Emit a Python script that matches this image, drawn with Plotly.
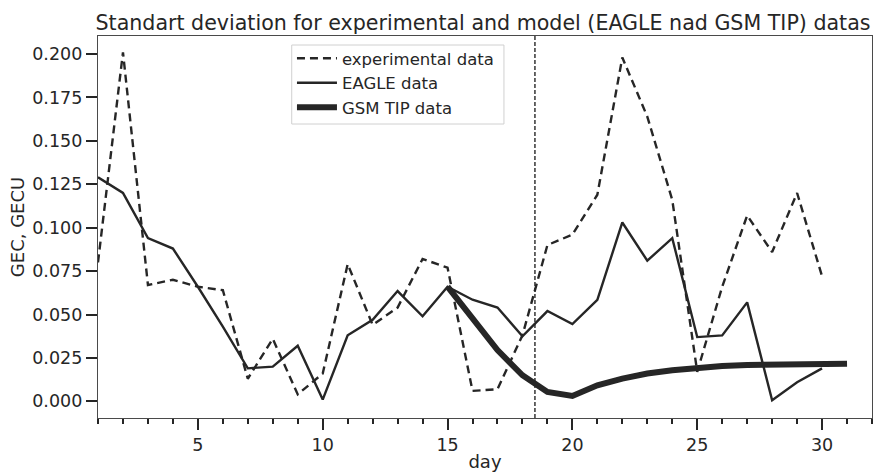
import plotly.graph_objects as go

days_exp = list(range(1, 31))
exp_data = [0.080, 0.201, 0.067, 0.070, 0.066, 0.064, 0.013, 0.036, 0.004, 0.016,
            0.079, 0.044, 0.054, 0.082, 0.077, 0.006, 0.007, 0.038, 0.090, 0.096,
            0.119, 0.198, 0.164, 0.116, 0.017, 0.066, 0.107, 0.086, 0.120, 0.072]

days_eagle = list(range(1, 31))
eagle_data = [0.129, 0.120, 0.094, 0.088, 0.066, 0.043, 0.019, 0.020, 0.032, 0.001,
              0.038, 0.047, 0.0635, 0.049, 0.066, 0.0585, 0.054, 0.0375, 0.052, 0.0445,
              0.0585, 0.103, 0.081, 0.094, 0.037, 0.038, 0.057, 0.0006, 0.011, 0.019]

days_gsm = list(range(15, 32))
gsm_data = [0.066, 0.048, 0.0295, 0.015, 0.0054, 0.0031, 0.0092, 0.0131, 0.016, 0.0179,
            0.0194, 0.0203, 0.0209, 0.0212, 0.0214, 0.0216, 0.0217]

vline_day = 18.5

x_range = [1, 32]
y_range = [-0.0096, 0.2104]
y_ticks = [0.000, 0.025, 0.050, 0.075, 0.100, 0.125, 0.150, 0.175, 0.200]
y_tick_labels = ["0.000", "0.025", "0.050", "0.075", "0.100", "0.125", "0.150", "0.175", "0.200"]
x_ticks = [5, 10, 15, 20, 25, 30]

INK = "#262626"
SPINE = "#4a4a4a"
FONT = "DejaVu Sans"

fig = go.Figure()
fig.add_trace(go.Scatter(x=days_exp, y=exp_data, mode="lines", name="experimental data",
                         line=dict(color=INK, width=2.4, dash="8px,5px")))
fig.add_trace(go.Scatter(x=days_eagle, y=eagle_data, mode="lines", name="EAGLE data",
                         line=dict(color=INK, width=2.4)))
fig.add_trace(go.Scatter(x=days_gsm, y=gsm_data, mode="lines", name="GSM TIP data",
                         line=dict(color=INK, width=6)))

fig.add_vline(x=vline_day, line=dict(color=INK, width=1.4, dash="4px,2px"))

# legend frame (matplotlib-style box)
fig.add_shape(type="rect", xref="paper", yref="paper",
              x0=0.2503, x1=0.5245, y0=0.7696, y1=0.9764,
              line=dict(color="#d0d0d0", width=1), fillcolor="white", layer="below")

fig.update_layout(
    width=878, height=472,
    margin=dict(l=98, r=6, t=36, b=54),
    paper_bgcolor="white", plot_bgcolor="white",
    font=dict(family=FONT, color=INK, size=17),
    title=dict(text="Standart deviation for experimental and model (EAGLE nad GSM TIP) datas",
               x=483 / 878, xanchor="center", xref="container", y=1 - 23 / 472, yanchor="middle",
               yref="container", font=dict(size=20.6, color=INK, family=FONT)),
    showlegend=True,
    legend=dict(x=0.2506, y=0.9869, xanchor="left", yanchor="top",
                bgcolor="rgba(0,0,0,0)", borderwidth=0,
                font=dict(size=16.5, color=INK, family=FONT), tracegroupgap=0,
                itemwidth=40),
)

fig.update_xaxes(
    range=x_range, tickvals=x_ticks, ticks="outside", ticklen=11, tickwidth=1.8, tickcolor=INK,
    showline=True, linecolor=SPINE, linewidth=1.3, mirror=True, showgrid=False, zeroline=False,
    minor=dict(ticks="outside", dtick=1, tick0=0, ticklen=5, tickwidth=1.6, tickcolor=INK, showgrid=False),
    title=dict(text="day", font=dict(size=18, color=INK, family=FONT), standoff=6),
    tickfont=dict(size=17.5, color=INK, family=FONT), automargin=False,
)
fig.update_yaxes(
    range=y_range, tickvals=y_ticks, ticktext=y_tick_labels, ticks="outside", ticklen=11,
    tickwidth=1.8, tickcolor=INK,
    showline=True, linecolor=SPINE, linewidth=1.3, mirror=True, showgrid=False, zeroline=False,
    title=dict(text="GEC, GECU", font=dict(size=18, color=INK, family=FONT), standoff=2),
    tickfont=dict(size=17.5, color=INK, family=FONT), automargin=False,
)

fig.write_html("out.html")
